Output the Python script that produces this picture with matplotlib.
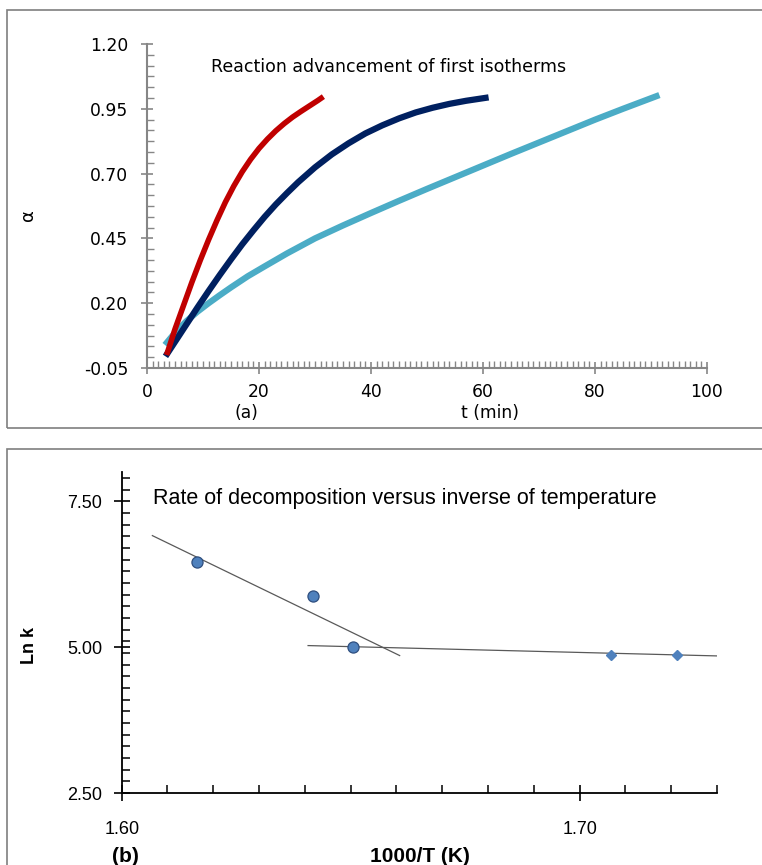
import matplotlib
matplotlib.use('Agg')
from matplotlib import pyplot as plt
from matplotlib.ticker import MultipleLocator, FixedLocator, FormatStrFormatter
import numpy as np

plt.rcParams['font.family'] = ['Liberation Sans', 'DejaVu Sans']

# (a) first isotherms: reaction advancement vs time (min)
red_t = [3.5, 5.0, 6.5, 8.0, 9.5, 11.0, 12.5, 14.0, 15.5, 17.0, 18.5, 20.0, 21.5, 23.0,
         24.5, 26.0, 27.5, 29.0, 30.5, 31.5]
red_a = [0.0, 0.10, 0.19, 0.28, 0.365, 0.445, 0.52, 0.59, 0.652, 0.707, 0.755, 0.797, 0.833,
         0.865, 0.893, 0.918, 0.94, 0.961, 0.982, 0.997]

navy_t = [3.3, 5, 7, 9, 11, 13, 15, 17, 19, 21, 23, 25, 27, 30, 33, 36, 39, 42, 45, 48,
          51, 54, 57, 61]
navy_a = [-0.005, 0.051, 0.117, 0.183, 0.247, 0.309, 0.369, 0.427, 0.481, 0.533, 0.581,
          0.625, 0.667, 0.724, 0.774, 0.817, 0.855, 0.886, 0.913, 0.936, 0.954, 0.969,
          0.981, 0.994]

cyan_t = [3.2, 5, 7, 9, 11, 13, 15, 18, 21, 25, 30, 35, 40, 45, 50, 55, 60, 65, 70, 75,
          80, 85, 91.5]
cyan_a = [0.039, 0.086, 0.13, 0.167, 0.20, 0.231, 0.261, 0.304, 0.342, 0.392, 0.45, 0.50,
          0.548, 0.595, 0.641, 0.686, 0.731, 0.776, 0.82, 0.864, 0.908, 0.95, 1.003]

# (b) Arrhenius plot
circ_x = [1.6165, 1.6418, 1.6506]
circ_y = [6.46, 5.88, 5.01]
diam_x = [1.7069, 1.7213]
diam_y = [4.87, 4.87]
fit1_x = [1.6067, 1.6607]
fit1_y = [6.91, 4.855]
fit2_x = [1.6407, 1.7299]
fit2_y = [5.026, 4.849]

fig = plt.figure(figsize=(7.62, 8.65), dpi=100)

# panel frames
fig.add_artist(plt.Rectangle((7/762, 1-428/865), 1.0, 418/865, transform=fig.transFigure,
                             fill=False, edgecolor='#7f7f7f', linewidth=1.2))
fig.add_artist(plt.Rectangle((7/762, -0.05), 1.0, 0.05+1-449/865, transform=fig.transFigure,
                             fill=False, edgecolor='#7f7f7f', linewidth=1.2))

# ---- top panel ----
top_font = 'DejaVu Sans'
ax1 = fig.add_axes([147/762, 1-368/865, (707-147)/762, (368-44)/865])
style = dict(solid_capstyle='butt', solid_joinstyle='round')
ax1.plot(cyan_t, cyan_a, color='#4BACC6', lw=4.5, **style)
ax1.plot(navy_t, navy_a, color='#002060', lw=4.5, **style)
ax1.plot(red_t, red_a, color='#C00000', lw=4, **style)
ax1.set_xlim(0, 100)
ax1.set_ylim(-0.05, 1.20)
ax1.xaxis.set_major_locator(MultipleLocator(20))
ax1.xaxis.set_minor_locator(MultipleLocator(1))
ax1.yaxis.set_major_locator(FixedLocator([-0.05, 0.20, 0.45, 0.70, 0.95, 1.20]))
ax1.yaxis.set_minor_locator(FixedLocator(np.arange(-0.05, 1.21, 0.25/6)))
ax1.yaxis.set_major_formatter(FormatStrFormatter('%.2f'))
for s in ['top', 'right']:
    ax1.spines[s].set_visible(False)
for s in ['left', 'bottom']:
    ax1.spines[s].set_color('#868686')
    ax1.spines[s].set_linewidth(1.5)
ax1.tick_params(which='major', direction='inout', length=9, width=1.2, color='#868686',
                labelsize=12.3, pad=9)
ax1.tick_params(axis='x', which='major', pad=6)
ax1.tick_params(which='minor', direction='in', length=5, width=1, color='#868686')
for lbl in ax1.get_xticklabels() + ax1.get_yticklabels():
    lbl.set_family(top_font)
ax1.text(11.5, 1.11, 'Reaction advancement of first isotherms', fontsize=12.5,
         family=top_font, va='center')
fig.text(28/762, 1-215/865, 'α', fontsize=13, family=top_font, rotation=90,
         ha='center', va='center')
fig.text(246/762, 1-413/865, '(a)', fontsize=12.3, family=top_font, ha='center', va='center')
fig.text(490/762, 1-413/865, 't (min)', fontsize=12.3, family=top_font, ha='center',
         va='center')

# ---- bottom panel ----
ax2 = fig.add_axes([121.7/762, 1-793/865, (717-121.7)/762, (793-472)/865])
ax2.plot(fit1_x, fit1_y, color='#595959', lw=0.9)
ax2.plot(fit2_x, fit2_y, color='#595959', lw=0.9)
ax2.plot(circ_x, circ_y, 'o', ms=8, color='#4F81BD', mec='#2F4F7F', mew=0.9)
ax2.plot(diam_x, diam_y, 'D', ms=5, color='#4F81BD', mec='#4F81BD')
ax2.set_xlim(1.60, 1.73)
ax2.set_ylim(2.5, 8.0)
ax2.xaxis.set_major_locator(FixedLocator([1.60, 1.70]))
ax2.xaxis.set_minor_locator(FixedLocator(np.arange(1.60, 1.7301, 0.01)))
ax2.yaxis.set_major_locator(FixedLocator([2.5, 5.0, 7.5]))
ax2.yaxis.set_minor_locator(FixedLocator(np.arange(2.5, 8.01, 0.2)))
ax2.xaxis.set_major_formatter(FormatStrFormatter('%.2f'))
ax2.yaxis.set_major_formatter(FormatStrFormatter('%.2f'))
for s in ['top', 'right']:
    ax2.spines[s].set_visible(False)
for s in ['left', 'bottom']:
    ax2.spines[s].set_linewidth(1.3)
ax2.tick_params(which='major', direction='inout', length=12, width=1.2, labelsize=13, pad=8)
ax2.tick_params(axis='x', which='major', pad=14)
ax2.tick_params(which='minor', direction='in', length=6, width=1.1)
ax2.text(1.6068, 7.55, 'Rate of decomposition versus inverse of temperature',
         fontsize=15.5, va='center')
fig.text(30/762, 1-645/865, 'Ln k', fontsize=13, fontweight='bold', rotation=90,
         ha='center', va='center')
fig.text(125/762, 1-856/865, '(b)', fontsize=15, fontweight='bold', ha='center', va='center')
fig.text(420/762, 1-856/865, '1000/T (K)', fontsize=15, fontweight='bold', ha='center',
         va='center')

fig.savefig('out.png', dpi=100)
